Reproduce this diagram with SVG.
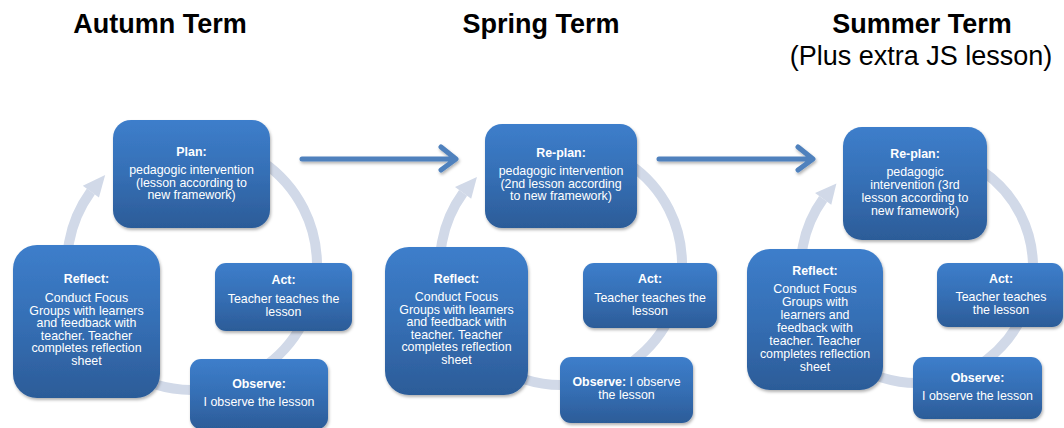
<svg xmlns="http://www.w3.org/2000/svg" width="1064" height="428" viewBox="0 0 1064 428">
  <defs>
    <linearGradient id="boxGrad" x1="0" y1="0" x2="0" y2="1">
      <stop offset="0" stop-color="#3d7ecb"/>
      <stop offset="0.5" stop-color="#356fb5"/>
      <stop offset="1" stop-color="#2c5c98"/>
    </linearGradient>
    <filter id="shadow" x="-10%" y="-10%" width="130%" height="140%">
      <feDropShadow dx="1" dy="2" stdDeviation="1.8" flood-color="#000" flood-opacity="0.3"/>
    </filter>
  </defs>
  <style>
    .title { font-family: "Liberation Sans", Arial, sans-serif; font-size: 27px; fill: #000; text-anchor: middle; }
    .bold { font-weight: bold; }
    .box { fill: url(#boxGrad); filter: url(#shadow); }
    .t { font-family: "Liberation Sans", Arial, sans-serif; font-size: 12.4px; fill: #fff; text-anchor: middle; }
    .ring { fill: none; stroke: #d1d9e8; stroke-width: 10; }
    .ringhead { fill: #d1d9e8; }
    .flow { fill: none; stroke: #4f81bd; stroke-width: 5; stroke-linecap: round; stroke-linejoin: round; filter: url(#shadow); }
  </style>

  <rect width="1064" height="428" fill="#fff"/>

  <g id="titles">
    <text class="title bold" x="160" y="33">Autumn Term</text>
    <text class="title bold" x="541" y="33">Spring Term</text>
    <text class="title bold" x="922" y="33">Summer Term</text>
    <text class="title" x="921" y="65">(Plus extra JS lesson)</text>
  </g>

  <g id="connectors">
    <!-- cycle 1 ring -->
    <path class="ring" d="M149.25,147.54 A125,125 0 1 1 90.87,191.53"/>
    <polygon class="ringhead" points="105.17,175.09 98.96,197.40 82.80,185.65"/>
    <!-- cycle 2 ring -->
    <path class="ring" d="M519.62,150.30 A121,121 0 1 1 463.11,192.88"/>
    <polygon class="ringhead" points="476.94,176.96 471.20,198.75 455.02,187.00"/>
    <!-- cycle 3 ring -->
    <path class="ring" d="M877.33,158.00 A116,116 0 1 1 823.16,198.82"/>
    <polygon class="ringhead" points="836.41,183.56 831.25,204.69 815.07,192.94"/>
    <!-- term arrows -->
    <path class="flow" d="M302,159 L455,159 M441,147 L456,159 L441,170"/>
    <path class="flow" d="M659,159 L812,159 M798,147 L813,159 L798,170"/>
  </g>

  <!-- Cycle 1 -->
  <g id="c1-plan">
    <rect class="box" x="113" y="120" width="157" height="108" rx="18"/>
    <text class="t bold" x="191.5" y="156">Plan:</text>
    <text class="t" x="191.5" y="174">pedagogic intervention</text>
    <text class="t" x="191.5" y="186.7">(lesson according to</text>
    <text class="t" x="191.5" y="199.4">new framework)</text>
  </g>
  <g id="c1-act">
    <rect class="box" x="215" y="263" width="137" height="68" rx="11"/>
    <text class="t bold" x="283.5" y="284">Act:</text>
    <text class="t" x="283.5" y="303">Teacher teaches the</text>
    <text class="t" x="283.5" y="315.5">lesson</text>
  </g>
  <g id="c1-observe">
    <rect class="box" x="190" y="359" width="138" height="70" rx="11"/>
    <text class="t bold" x="259" y="388">Observe:</text>
    <text class="t" x="259" y="406">I observe the lesson</text>
  </g>
  <g id="c1-reflect">
    <rect class="box" x="13" y="245" width="147" height="153" rx="24"/>
    <text class="t bold" x="86.5" y="283">Reflect:</text>
    <text class="t" x="86.5" y="302">Conduct Focus</text>
    <text class="t" x="86.5" y="314.5">Groups with learners</text>
    <text class="t" x="86.5" y="327">and feedback with</text>
    <text class="t" x="86.5" y="339.5">teacher. Teacher</text>
    <text class="t" x="86.5" y="352">completes reflection</text>
    <text class="t" x="86.5" y="364.5">sheet</text>
  </g>

  <!-- Cycle 2 -->
  <g id="c2-replan">
    <rect class="box" x="485" y="124" width="152" height="104" rx="17"/>
    <text class="t bold" x="561" y="157">Re-plan:</text>
    <text class="t" x="561" y="175">pedagogic intervention</text>
    <text class="t" x="561" y="187.7">(2nd lesson according</text>
    <text class="t" x="561" y="200.4">to new framework)</text>
  </g>
  <g id="c2-act">
    <rect class="box" x="583" y="263" width="134" height="65" rx="11"/>
    <text class="t bold" x="650" y="283">Act:</text>
    <text class="t" x="650" y="302">Teacher teaches the</text>
    <text class="t" x="650" y="314.5">lesson</text>
  </g>
  <g id="c2-observe">
    <rect class="box" x="560" y="357" width="133" height="66" rx="11"/>
    <text class="t" x="626.5" y="386"><tspan font-weight="bold">Observe:</tspan> I observe</text>
    <text class="t" x="626.5" y="398.5">the lesson</text>
  </g>
  <g id="c2-reflect">
    <rect class="box" x="385" y="247" width="143" height="148" rx="24"/>
    <text class="t bold" x="456.5" y="283">Reflect:</text>
    <text class="t" x="456.5" y="301">Conduct Focus</text>
    <text class="t" x="456.5" y="313.5">Groups with learners</text>
    <text class="t" x="456.5" y="326">and feedback with</text>
    <text class="t" x="456.5" y="338.5">teacher. Teacher</text>
    <text class="t" x="456.5" y="351">completes reflection</text>
    <text class="t" x="456.5" y="363.5">sheet</text>
  </g>

  <!-- Cycle 3 -->
  <g id="c3-replan">
    <rect class="box" x="843" y="127" width="144" height="113" rx="19"/>
    <text class="t bold" x="915" y="158">Re-plan:</text>
    <text class="t" x="915" y="176">pedagogic</text>
    <text class="t" x="915" y="189">intervention (3rd</text>
    <text class="t" x="915" y="202">lesson according to</text>
    <text class="t" x="915" y="215">new framework)</text>
  </g>
  <g id="c3-act">
    <rect class="box" x="937" y="263" width="126" height="64" rx="11"/>
    <text class="t bold" x="1001" y="283">Act:</text>
    <text class="t" x="1001" y="301">Teacher teaches</text>
    <text class="t" x="1001" y="313.5">the lesson</text>
  </g>
  <g id="c3-observe">
    <rect class="box" x="913" y="357" width="129" height="62" rx="11"/>
    <text class="t bold" x="977.5" y="382">Observe:</text>
    <text class="t" x="977.5" y="400">I observe the lesson</text>
  </g>
  <g id="c3-reflect">
    <rect class="box" x="747" y="249" width="136" height="141" rx="23"/>
    <text class="t bold" x="815" y="275">Reflect:</text>
    <text class="t" x="815" y="293">Conduct Focus</text>
    <text class="t" x="815" y="306">Groups with</text>
    <text class="t" x="815" y="319">learners and</text>
    <text class="t" x="815" y="332">feedback with</text>
    <text class="t" x="815" y="345">teacher. Teacher</text>
    <text class="t" x="815" y="358">completes reflection</text>
    <text class="t" x="815" y="371">sheet</text>
  </g>
</svg>
